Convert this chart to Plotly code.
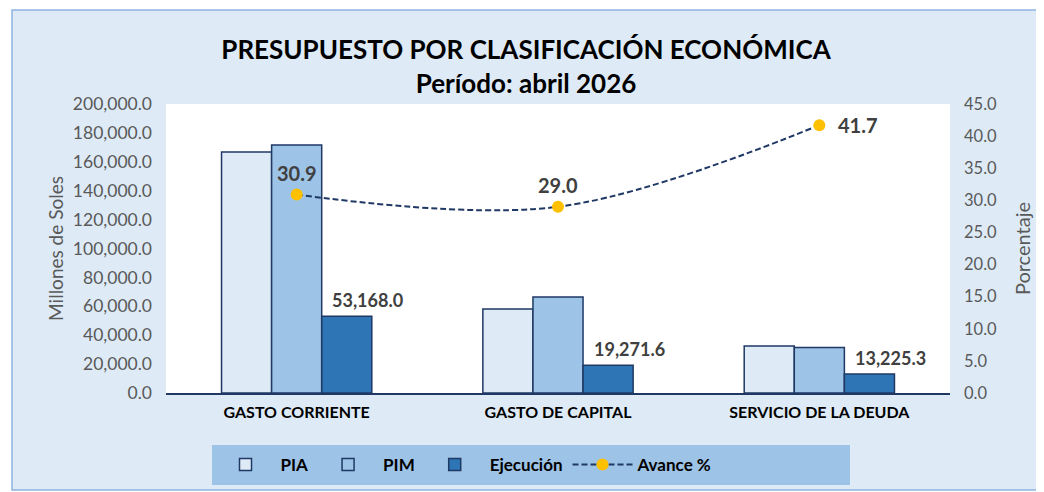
import plotly.graph_objects as go

categorias = ["GASTO CORRIENTE", "GASTO DE CAPITAL", "SERVICIO DE LA DEUDA"]
pia = [166800, 58100, 32500]
pim = [171600, 66400, 31500]
ejecucion = [53168.0, 19271.6, 13225.3]
avance = [30.9, 29.0, 41.7]

FONT = "Lato"
BORDER = "#1F3864"

fig = go.Figure()
fig.add_bar(x=categorias, y=pia, name="PIA", marker=dict(color="#DEEBF7", line=dict(color=BORDER, width=1.5)))
fig.add_bar(x=categorias, y=pim, name="PIM", marker=dict(color="#9DC3E6", line=dict(color=BORDER, width=1.5)))
fig.add_bar(x=categorias, y=ejecucion, name="Ejecución", marker=dict(color="#2E75B6", line=dict(color=BORDER, width=1.5)))
fig.add_scatter(
    x=categorias, y=avance, name="Avance %", yaxis="y2",
    mode="lines+markers",
    line=dict(color=BORDER, width=2, dash="6px,3px", shape="spline", smoothing=1),
    marker=dict(color="#FFC000", size=12),
)

label_shift = [(0, 8), (0, 8), (17, 0)]
label_anchor = [("center", "bottom"), ("center", "bottom"), ("left", "middle")]
for c, v, (dx, dy), (xa, ya) in zip(categorias, avance, label_shift, label_anchor):
    fig.add_annotation(x=c, y=v, xref="x", yref="y2", text=f"<b>{v:.1f}</b>",
                       showarrow=False, xshift=dx, yshift=dy, xanchor=xa, yanchor=ya,
                       font=dict(family=FONT, size=20, color="#404040"))

for c, v in zip(categorias, ejecucion):
    fig.add_annotation(x=c, y=v, xref="x", yref="y", text=f"<b>{v:,.1f}</b>",
                       showarrow=False, xshift=71, yanchor="bottom", yshift=3,
                       font=dict(family=FONT, size=18, color="#404040"))

# page body has an 8px margin: figure pixel = screen pixel - 8
OFF = 8
W, H = 1044 - OFF, 492 - OFF
L, R, T, B = 166 - OFF, 1044 - 950, 104 - OFF, 492 - 393
pw, ph = W - L - R, H - T - B
def px(x): return (x - OFF - L) / pw
def py(y): return (H - B - (y - OFF)) / ph

shapes = [
    dict(type="rect", xref="paper", yref="paper", layer="below",
         x0=px(12), x1=px(1040), y0=py(490), y1=py(10),
         fillcolor="#DEEBF7", line=dict(color="#8EB4E3", width=1.5)),
    dict(type="rect", xref="paper", yref="paper", layer="below",
         x0=0, x1=1, y0=0, y1=1, fillcolor="white", line=dict(width=0)),
    dict(type="rect", xref="paper", yref="paper", layer="below",
         x0=px(212), x1=px(850), y0=py(485), y1=py(445),
         fillcolor="#9DC3E6", line=dict(width=0)),
]

fig.update_layout(
    width=W, height=H,
    margin=dict(l=L, r=R, t=T, b=B, autoexpand=False),
    paper_bgcolor="white", plot_bgcolor="rgba(0,0,0,0)",
    barmode="group", bargap=0.425, bargroupgap=0,
    font=dict(family=FONT, color="#595959"),
    title=dict(text="<b>PRESUPUESTO POR CLASIFICACIÓN ECONÓMICA<br>Período: abril 2026</b>",
               x=0.5, xanchor="center", y=1 - 51 / H, yref="container", yanchor="middle",
               font=dict(family=FONT, size=26, color="#000000")),
    shapes=shapes,
    showlegend=True,
    legend=dict(orientation="h", x=px(464), xanchor="center", y=py(465), yanchor="middle",
                bgcolor="rgba(0,0,0,0)", font=dict(family=FONT, size=17, color="#000000", weight="bold"),
                traceorder="normal", itemwidth=60),
    xaxis=dict(showline=True, linecolor=BORDER, linewidth=2, ticks="", ticklabelstandoff=4,
               tickfont=dict(family=FONT, size=16, color="#000000", weight="bold")),
    yaxis=dict(range=[0, 200000], dtick=20000, tickformat=",.1f", showgrid=False, zeroline=False,
               ticklabelstandoff=13,
               tickfont=dict(family=FONT, size=17.5, color="#595959"),
               title=dict(text="Millones de Soles", font=dict(family=FONT, size=19, color="#595959"), standoff=4)),
    yaxis2=dict(range=[0, 45], dtick=5, tickformat=".1f", overlaying="y", side="right",
                showgrid=False, zeroline=False, ticklabelstandoff=13,
                tickfont=dict(family=FONT, size=16.5, color="#595959"),
                title=dict(text="Porcentaje", font=dict(family=FONT, size=20, color="#595959"), standoff=19)),
)

fig.write_html("out.html")
